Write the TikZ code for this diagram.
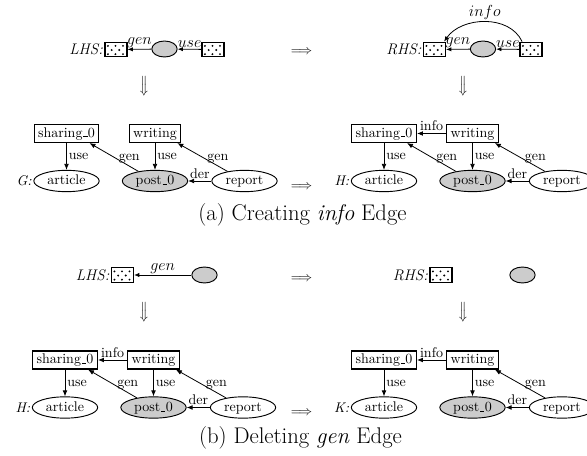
\documentclass[tikz,border=0pt]{standalone}
\usetikzlibrary{arrows.meta,shapes.geometric}
% short low bar, as in the classic OT1 underscore
\newcommand\usc{\leavevmode\kern.06em\vbox{\hrule width.3em height.4pt}\kern.03em}
\tikzset{
  gfont/.style={font=\fontsize{10.5}{12}\selectfont},
  rectnode/.style={gfont, draw, line width=0.8pt, inner xsep=3pt, inner ysep=0pt,
    minimum height=13.5pt, text height=7.3pt, text depth=2pt},
  ellnode/.style={gfont, draw, ellipse, line width=0.7pt, inner sep=0pt,
    minimum width=49pt, minimum height=16pt, text height=7pt, text depth=1.5pt},
  postnode/.style={ellnode, fill=gray!40},
  edge/.style={-{Latex[length=4.5pt,width=3.6pt]}, line width=0.6pt},
  elabel/.style={gfont, inner sep=1.5pt},
  dotbox/.style={draw, line width=0.8pt, fill=white, minimum width=16.5pt,
    minimum height=11pt, inner sep=0pt},
  rellipse/.style={draw, ellipse, fill=gray!40, line width=0.7pt, inner sep=0pt,
    minimum width=19pt, minimum height=12pt},
  rlab/.style={font=\fontsize{11.5}{13}\selectfont, inner sep=1pt},
  redge/.style={-{Latex[length=4pt,width=3.2pt]}, line width=0.6pt},
  bigarrow/.style={font=\fontsize{10}{12}\selectfont, inner sep=0pt},
  caption/.style={font=\fontsize{17}{20}\selectfont, inner sep=0pt, anchor=base}
}
% staggered dot texture inside a dotted box node
\newcommand\boxdots[1]{%
  \foreach \dx in {2.6,8.25,13.9}{
    \fill ([xshift=\dx pt,yshift=2.4pt]#1.south west) circle (0.8pt);
    \fill ([xshift=\dx pt,yshift=8.6pt]#1.south west) circle (0.8pt);}
  \foreach \dx in {5.4,11.1}{
    \fill ([xshift=\dx pt,yshift=5.5pt]#1.south west) circle (0.8pt);}
}
% nodes and edges shared by every instance graph
\newcommand\basegraph[1]{%
  \node[rectnode] (s) at (0,0) {sharing\usc 0};
  \node[rectnode] (w) at (88.5,0) {writing};
  \node[ellnode] (a) at (0,47.5) {article};
  \node[postnode] (p) at (88.5,47.5) {post\usc 0};
  \node[ellnode] (r) at (178,47.5) {report};
  \node[gfont, anchor=east, inner sep=1pt] (l) at (a.west) {\textit{#1:}};
  \draw[edge] (s) -- node[elabel, right] {use} (a);
  \draw[edge] (w) -- node[elabel, right] {use} (p);
  \draw[edge] (r) -- node[elabel, right, pos=0.45] {gen} ([xshift=-3pt]w.south east);
  \draw[edge] (r) -- node[elabel, above] {der} (p);
}
\newcommand\genedge{%
  \draw[edge] (p) -- node[elabel, right, pos=0.45] {gen} ([xshift=-7.5pt]s.south east);}
\newcommand\infoedge{%
  \draw[edge] (w) -- node[elabel, above] {info} (s);}
\begin{document}
\begin{tikzpicture}[x=0.75pt,y=-0.75pt]
\useasboundingbox (0,0) rectangle (587,456);

% ---------- (a) rule ----------
\node[dotbox] (la1) at (116,49.5) {};
\node[rellipse] (la2) at (164.5,49) {};
\node[dotbox] (la3) at (213,49.5) {};
\boxdots{la1}\boxdots{la3}
\node[rlab, anchor=east] (lal) at (la1.west) {\textit{LHS:}};
\draw[redge] (la2) -- node[rlab, above] {$gen$} (la1);
\draw[redge] (la3) -- node[rlab, above] {$use$} (la2);

\node[dotbox] (ra1) at (434.5,49.5) {};
\node[rellipse] (ra2) at (483,49) {};
\node[dotbox] (ra3) at (531,49.5) {};
\boxdots{ra1}\boxdots{ra3}
\node[rlab, anchor=east] (ral) at (ra1.west) {\textit{RHS:}};
\draw[redge] (ra2) -- node[rlab, above] {$gen$} (ra1);
\draw[redge] (ra3) -- node[rlab, above] {$use$} (ra2);
\draw[redge] ([xshift=2pt]ra3.north west) to[out=115,in=55]
  node[above, font=\fontsize{12}{14}\selectfont, inner sep=1.5pt] {$info$}
  ([xshift=-1.5pt]ra1.north east);

\node[bigarrow] (ah1) at (301.5,52) {$\Longrightarrow$};
\node[bigarrow, rotate=-90] (av1) at (143,86.5) {$\Longrightarrow$};
\node[bigarrow, rotate=-90] (av2) at (462,86.5) {$\Longrightarrow$};

\begin{scope}[shift={(66.5,133.5)}, name prefix=g-]
  \basegraph{G}
  \genedge
\end{scope}
\begin{scope}[shift={(384,133.5)}, name prefix=h-]
  \basegraph{H}
  \genedge
  \infoedge
\end{scope}
\node[bigarrow] (ah2) at (301.5,187) {$\Longrightarrow$};
\node[caption] (capa) at (302.5,221) {(a) Creating \textit{info} Edge};

% ---------- (b) rule ----------
\node[dotbox] (lb1) at (122.5,275) {};
\node[rellipse] (lb2) at (204.5,275) {};
\boxdots{lb1}
\node[rlab, anchor=east] (lbl) at (lb1.west) {\textit{LHS:}};
\draw[redge] (lb2) -- node[rlab, above] {$gen$} (lb1);

\node[dotbox] (rb1) at (441,275) {};
\node[rellipse] (rb2) at (522.5,275) {};
\boxdots{rb1}
\node[rlab, anchor=east] (rbl) at (rb1.west) {\textit{RHS:}};

\node[bigarrow] (ah3) at (301.5,279) {$\Longrightarrow$};
\node[bigarrow, rotate=-90] (av3) at (143,312) {$\Longrightarrow$};
\node[bigarrow, rotate=-90] (av4) at (462,312) {$\Longrightarrow$};

\begin{scope}[shift={(65,360)}, name prefix=h2-]
  \basegraph{H}
  \genedge
  \infoedge
\end{scope}
\begin{scope}[shift={(384,360)}, name prefix=k-]
  \basegraph{K}
  \infoedge
\end{scope}
\node[bigarrow] (ah4) at (301.5,413) {$\Longrightarrow$};
\node[caption] (capb) at (300.5,444) {(b) Deleting \textit{gen} Edge};
\end{tikzpicture}
\end{document}
